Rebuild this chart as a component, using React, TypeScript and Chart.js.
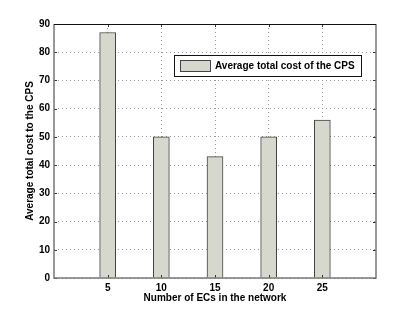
import React, { useEffect, useRef } from "react";
import { Chart, registerables } from "chart.js";

Chart.register(...registerables);

const categories = [5, 10, 15, 20, 25];
const costValues = [87, 50, 43, 50, 56];
const seriesLabel = "Average total cost of the CPS";
const yTicks = [0, 10, 20, 30, 40, 50, 60, 70, 80, 90];

const FONT = "'Liberation Sans', Arial, Helvetica, sans-serif";

const framePlugin = {
  id: "frame",
  afterDatasetsDraw(chart: any) {
    const { ctx, chartArea: a, scales } = chart;
    ctx.save();
    // inner tick marks
    ctx.strokeStyle = "#333";
    ctx.lineWidth = 1;
    const tl = 3;
    scales.x.ticks.forEach((t: any) => {
      const px = Math.round(scales.x.getPixelForValue(t.value)) + 0.5;
      ctx.beginPath();
      ctx.moveTo(px, a.top);
      ctx.lineTo(px, a.top + tl);
      ctx.moveTo(px, a.bottom);
      ctx.lineTo(px, a.bottom - tl);
      ctx.stroke();
    });
    scales.y.ticks.forEach((t: any) => {
      const py = Math.round(scales.y.getPixelForValue(t.value)) + 0.5;
      ctx.beginPath();
      ctx.moveTo(a.left, py);
      ctx.lineTo(a.left + tl, py);
      ctx.moveTo(a.right, py);
      ctx.lineTo(a.right - tl, py);
      ctx.stroke();
    });
    // frame
    ctx.strokeStyle = "#777";
    ctx.lineWidth = 1.5;
    ctx.beginPath();
    ctx.moveTo(a.left, a.top);
    ctx.lineTo(a.left, a.bottom);
    ctx.lineTo(a.right, a.bottom);
    ctx.lineTo(a.right, a.top);
    ctx.stroke();
    ctx.strokeStyle = "#111";
    ctx.lineWidth = 1;
    ctx.beginPath();
    ctx.moveTo(a.left, a.top + 0.5);
    ctx.lineTo(a.right, a.top + 0.5);
    ctx.stroke();

    // legend
    const ds = chart.data.datasets[0];
    const lx = a.left + 120;
    const ly = a.top + 31;
    const lw = 187;
    const lh = 21;
    ctx.fillStyle = "#fff";
    ctx.fillRect(lx, ly, lw, lh);
    ctx.strokeStyle = "#111";
    ctx.lineWidth = 1;
    ctx.strokeRect(lx + 0.5, ly + 0.5, lw, lh);
    ctx.fillStyle = ds.backgroundColor;
    ctx.fillRect(lx + 6.5, ly + 5.5, 30, 11);
    ctx.strokeStyle = ds.borderColor;
    ctx.strokeRect(lx + 6.5, ly + 5.5, 30, 11);
    ctx.fillStyle = "#000";
    ctx.font = `bold 10px ${FONT}`;
    ctx.textBaseline = "middle";
    ctx.textAlign = "left";
    ctx.fillText(ds.label, lx + 41, ly + lh / 2 + 1);
    ctx.restore();
  },
};

export default function App() {
  const ref = useRef<HTMLCanvasElement | null>(null);
  useEffect(() => {
    if (!ref.current) return;
    const chart = new Chart(ref.current, {
      type: "bar",
      data: {
        datasets: [
          {
            label: seriesLabel,
            data: categories.map((c, i) => ({ x: c, y: costValues[i] })),
            backgroundColor: "#d6d8ce",
            borderColor: "#444",
            borderWidth: 1,
            barThickness: 16,
          },
        ],
      },
      options: {
        animation: false,
        responsive: false,
        layout: { padding: { left: 20, right: 39, top: 24, bottom: 5 } },
        plugins: { legend: { display: false }, tooltip: { enabled: false } },
        scales: {
          x: {
            type: "linear",
            min: 0,
            max: 30,
            offset: false,
            afterBuildTicks: (s: any) => {
              s.ticks = categories.map((v) => ({ value: v }));
            },
            afterFit: (s: any) => {
              s.height = 30;
            },
            grid: {
              color: "#999",
              lineWidth: 1,
              drawTicks: false,
              offset: false,
            },
            border: { display: false, dash: [1, 3] },
            ticks: {
              padding: 4,
              color: "#000",
              font: { family: FONT, size: 10, weight: "bold" },
              callback: (v: any) => String(v),
            },
            title: {
              display: true,
              text: "Number of ECs in the network",
              color: "#000",
              font: { family: FONT, size: 10, weight: "bold" },
              padding: { top: 2, bottom: 4 },
            },
          },
          y: {
            min: 0,
            max: 90,
            afterBuildTicks: (s: any) => {
              s.ticks = yTicks.map((v) => ({ value: v }));
            },
            afterFit: (s: any) => {
              s.width = 34;
            },
            grid: {
              color: "#999",
              lineWidth: 1,
              drawTicks: false,
            },
            border: { display: false, dash: [1, 3] },
            ticks: {
              padding: 4,
              color: "#000",
              font: { family: FONT, size: 10, weight: "bold" },
            },
            title: {
              display: true,
              text: "Average total cost to the CPS",
              color: "#000",
              font: { family: FONT, size: 10, weight: "bold" },
              padding: { top: 4, bottom: 2 },
            },
          },
        },
      } as any,
      plugins: [framePlugin],
    });
    return () => chart.destroy();
  }, []);
  return (
    <div style={{ position: "fixed", left: 0, top: 0, width: 415, height: 313, background: "#fff" }}>
      <canvas ref={ref} width={415} height={313} style={{ width: 415, height: 313 }} />
    </div>
  );
}
